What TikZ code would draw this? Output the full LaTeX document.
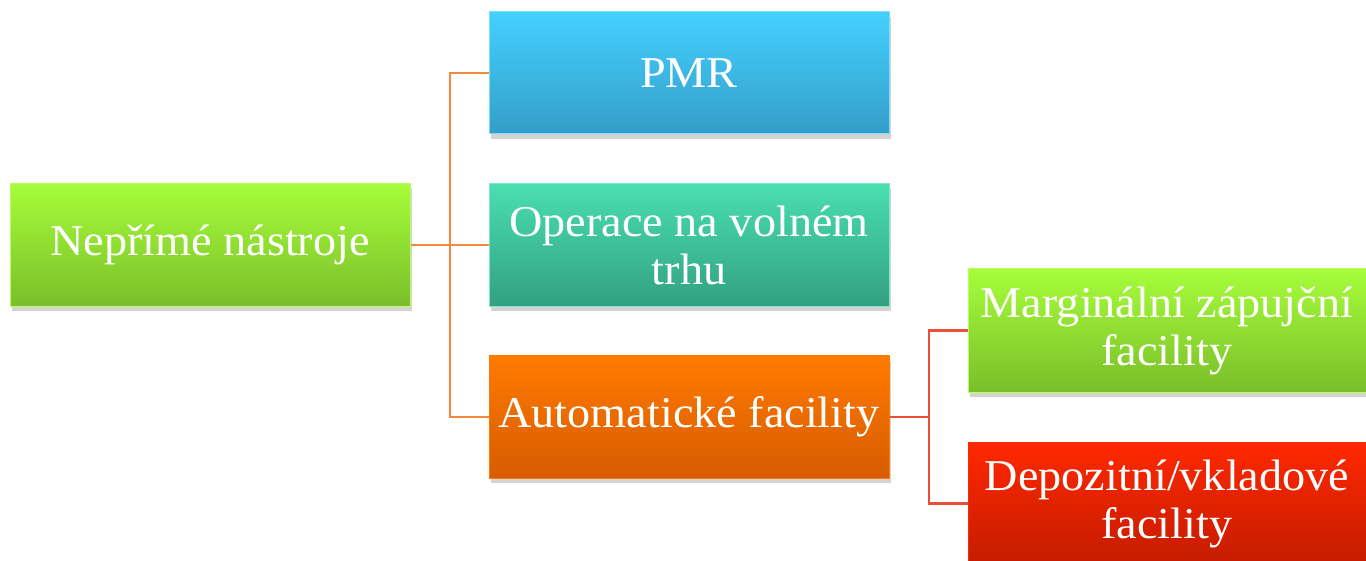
\documentclass[tikz,border=0pt]{standalone}
\usepackage{fontspec}
\setmainfont[FakeStretch=1.05]{Liberation Serif}
\usetikzlibrary{shadows}
\definecolor{gtop}{RGB}{166,253,58}
\definecolor{gbot}{RGB}{122,190,42}
\definecolor{btop}{RGB}{68,208,255}
\definecolor{bbot}{RGB}{52,158,200}
\definecolor{ttop}{RGB}{74,222,176}
\definecolor{tbot}{RGB}{50,160,130}
\definecolor{otop}{RGB}{255,122,0}
\definecolor{obot}{RGB}{214,92,0}
\definecolor{rtop}{RGB}{255,40,0}
\definecolor{rbot}{RGB}{196,28,0}
\definecolor{lineA}{RGB}{245,135,60}
\definecolor{lineB}{RGB}{232,80,55}
\tikzset{
  box/.style={rectangle, minimum width=400pt, minimum height=123pt, inner sep=0pt,
    text=white, align=center, font=\fontsize{44}{48}\selectfont,
    drop shadow={opacity=0.35, shadow xshift=2pt, shadow yshift=-5pt}},
  greenbox/.style={box, top color=gtop, bottom color=gbot, draw=gtop!80!white, line width=1pt},
  bluebox/.style={box, top color=btop, bottom color=bbot, draw=btop!70!white, line width=1pt},
  tealbox/.style={box, top color=ttop, bottom color=tbot, draw=ttop!70!white, line width=1pt},
  orangebox/.style={box, top color=otop, bottom color=obot, draw=otop, line width=1pt},
  redbox/.style={box, top color=rtop, bottom color=rbot, draw=rtop, line width=1pt},
  connA/.style={draw=lineA, line width=2.5pt},
  connB/.style={draw=lineB, line width=2.5pt}
}
\begin{document}
\begin{tikzpicture}[x=1pt,y=-1pt]
\useasboundingbox (0,0) rectangle (1366,561);
\node[greenbox] (root) at (210,245) {Nepřímé nástroje};
\node[bluebox, minimum height=122pt] (pmr) at (689,73) {PMR};
\node[tealbox] (op) at (689,245) {Operace na volném\\trhu};
\node[orangebox, minimum height=122pt] (auto) at (689,417) {Automatické facility};
\node[greenbox, minimum width=398pt] (marg) at (1167,330.5) {Marginální zápujční\\facility};
\node[redbox, minimum width=398pt] (depo) at (1167,503.5) {Depozitní/vkladové\\facility};
\coordinate (b1) at (450,245);
\coordinate (b2) at (929,417);
\draw[connA] (root.east) -- (b1);
\draw[connA] (b1) |- (pmr.west);
\draw[connA] (b1) -- (op.west);
\draw[connA] (b1) |- (auto.west);
\draw[connB] (auto.east) -- (b2);
\draw[connB] (b2) |- (marg.west);
\draw[connB] (b2) |- (depo.west);
\end{tikzpicture}
\end{document}
